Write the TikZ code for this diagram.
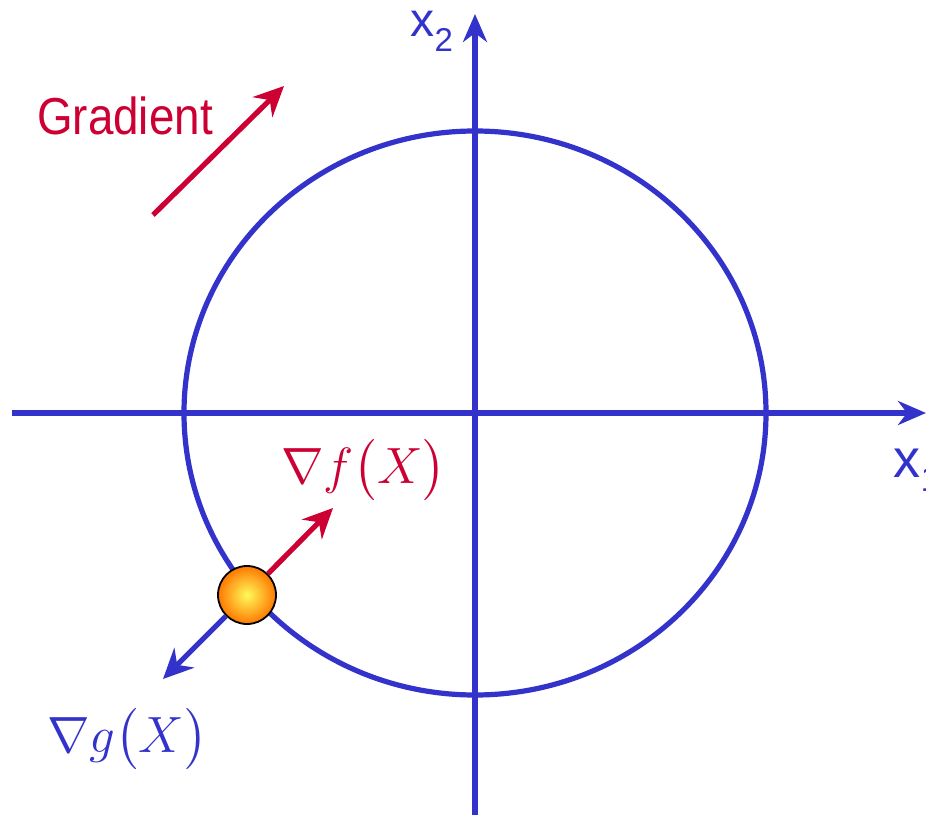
\documentclass[tikz,border=0pt]{standalone}
\usepackage{amsmath}
\usepackage{fontspec}
\setsansfont{Liberation Sans}
\usetikzlibrary{arrows.meta, positioning}
\definecolor{axisblue}{RGB}{51,51,204}
\definecolor{gradred}{RGB}{204,0,51}
\definecolor{ballcore}{RGB}{255,250,90}
\definecolor{ballrim}{RGB}{255,120,0}

\begin{document}
\begin{tikzpicture}[x=1pt, y=-1pt, >=Stealth, line width=5.2pt,
  axisarrow/.style={axisblue, -{Stealth[length=28pt, width=24pt, inset=9pt]}},
  vecarrow/.style={-{Stealth[length=30pt, width=28pt, inset=10pt]}},
  biglabel/.style={inner sep=0pt, font=\fontsize{50}{60}\selectfont},
  mathlabel/.style={inner sep=0pt, scale=2.05, font=\fontsize{24.88}{30}\selectfont}]
  \useasboundingbox (0,0) rectangle (926,818);
  \coordinate (O) at (475,413);
  % axes
  \draw[axisarrow] (12,413) coordinate (x1start) -- (926,413) coordinate (x1end);
  \draw[axisarrow] (475,815) coordinate (x2start) -- (475,14) coordinate (x2end);
  \node[biglabel, anchor=base west, axisblue, font=\fontsize{54}{60}\sffamily] (x1lab) at (891,477)
    {x\raisebox{-14pt}{\fontsize{36}{40}\selectfont 1}};
  \node[biglabel, anchor=base west, axisblue, font=\fontsize{48}{60}\sffamily] (x2lab) at (408,37)
    {x\raisebox{-15pt}{\fontsize{33}{40}\selectfont 2}};
  % constraint curve
  \draw[axisblue] (O) ellipse [x radius=291pt, y radius=282pt];
  % gradient legend
  \node[biglabel, gradred, xscale=0.88, font=\fontsize{52}{60}\sffamily] (gradlab) at (125,116) {Gradient};
  \coordinate (legstart) at (153,215);
  \coordinate (legend) at (284,86);
  \draw[gradred, vecarrow] (legstart) -- (legend);
  % point and gradients
  \node[circle, minimum size=58pt, inner sep=0pt, draw=black, line width=1.8pt,
    inner color=ballcore, outer color=ballrim] (ball) at (247,595) {};
  \coordinate (ftip) at (333,508);
  \coordinate (gtip) at (163,679);
  \draw[gradred, vecarrow] (ball) -- (ftip);
  \draw[axisblue, vecarrow] (ball) -- (gtip);
  \node[mathlabel, gradred, anchor=base west] (flab) at (276,483) {$\nabla f\bigl(X\bigr)$};
  \node[mathlabel, axisblue, anchor=base west] (glab) at (42,752) {$\nabla g\bigl(X\bigr)$};
\end{tikzpicture}
\end{document}
